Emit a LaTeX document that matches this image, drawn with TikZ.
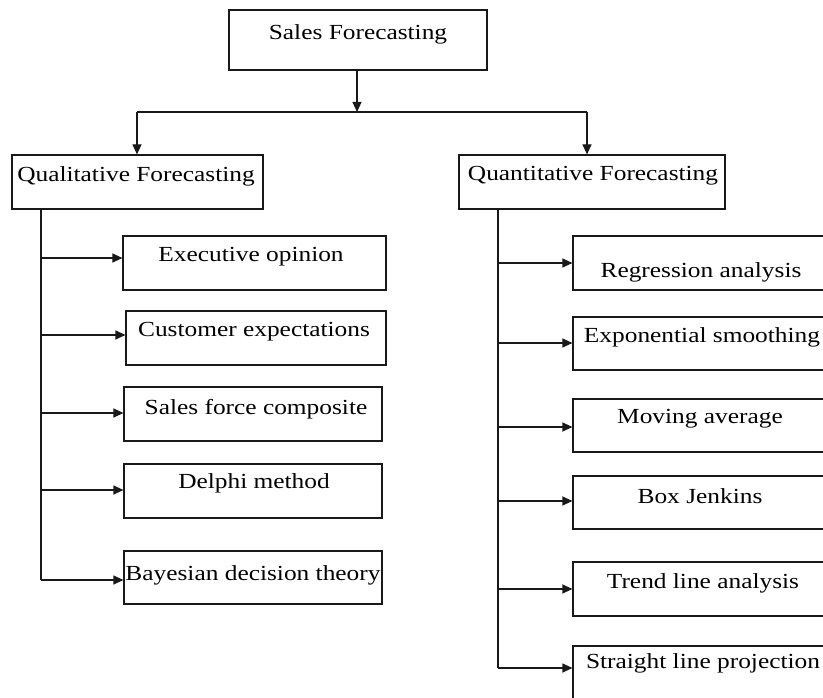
\documentclass[tikz,border=0pt]{standalone}
\usepackage{fontspec}
\setmainfont{Liberation Serif}[FakeStretch=1.18]
\usetikzlibrary{arrows.meta}
\begin{document}
\begin{tikzpicture}[x=1pt,y=-1pt,
  box/.style={draw=black!90, line width=1.2pt, inner sep=0pt},
  txt/.style={inner sep=0pt, font=\fontsize{21.5}{24}\selectfont},
  conn/.style={draw=black!90, line width=1.2pt},
  arr/.style={conn, -{Triangle[length=10pt,width=9pt]}}]
\clip (0,0) rectangle (823,698);
\useasboundingbox (0,0) rectangle (823,698);
% boxes: name, left, top, right, bottom
\newcommand{\mybox}[5]{\node[box, minimum width={#4-#2}, minimum height={#5-#3}] (#1) at ({(#2+#4)/2},{(#3+#5)/2}) {};}
\mybox{sales}{229}{10}{487}{70}
\mybox{qual}{12}{155}{263}{209}
\mybox{quant}{459}{155}{725}{209}
\mybox{exec}{123}{236}{386}{290}
\mybox{cust}{126}{311}{386}{365}
\mybox{sfc}{124}{387}{382}{441}
\mybox{delphi}{124}{464}{382}{518}
\mybox{bayes}{124}{551}{382}{604}
\mybox{regr}{573}{236}{832}{290}
\mybox{expo}{573}{317}{832}{370}
\mybox{moving}{573}{399}{832}{452}
\mybox{boxj}{573}{476}{832}{529}
\mybox{trend}{573}{562}{832}{616}
\mybox{straight}{573}{646}{832}{706}
% texts
\node[txt] (tsales) at (358,34) {Sales Forecasting};
\node[txt] (tqual) at (136,176) {Qualitative Forecasting};
\node[txt] (tquant) at (593,176) {Quantitative Forecasting};
\node[txt] (texec) at (251,257) {Executive opinion};
\node[txt] (tcust) at (254,332) {Customer expectations};
\node[txt] (tsfc) at (256,409) {Sales force composite};
\node[txt] (tdelphi) at (254,483) {Delphi method};
\node[txt] (tbayes) at (253,575) {Bayesian decision theory};
\node[txt] (tregr) at (701,272) {Regression analysis};
\node[txt] (texpo) at (702,337) {Exponential smoothing};
\node[txt] (tmoving) at (700,419) {Moving average};
\node[txt] (tboxj) at (700,496) {Box Jenkins};
\node[txt] (ttrend) at (703,583) {Trend line analysis};
\node[txt] (tstraight) at (703,663) {Straight line projection};
% top connectors
\coordinate (j) at (357,112);
\coordinate (jl) at (137,112);
\coordinate (jr) at (587,112);
\draw[arr] (sales.south -| j) -- (j);
\draw[conn] (jl) -- (jr);
\draw[arr] (jl) -- (jl |- qual.north);
\draw[arr] (jr) -- (jr |- quant.north);
% left trunk
\coordinate (lt) at (41,209);
\coordinate (lb) at (41,580);
\draw[conn] (lt) -- (lb);
\foreach \n/\yy in {exec/258, cust/335, sfc/413, delphi/490, bayes/580}{
  \draw[arr] (41,\yy) -- (\n.west |- 0,\yy);
}
% right trunk
\coordinate (rt) at (498,209);
\coordinate (rb) at (498,668);
\draw[conn] (rt) -- (rb);
\foreach \n/\yy in {regr/263, expo/343, moving/427, boxj/501, trend/589, straight/668}{
  \draw[arr] (498,\yy) -- (\n.west |- 0,\yy);
}
\end{tikzpicture}
\end{document}
